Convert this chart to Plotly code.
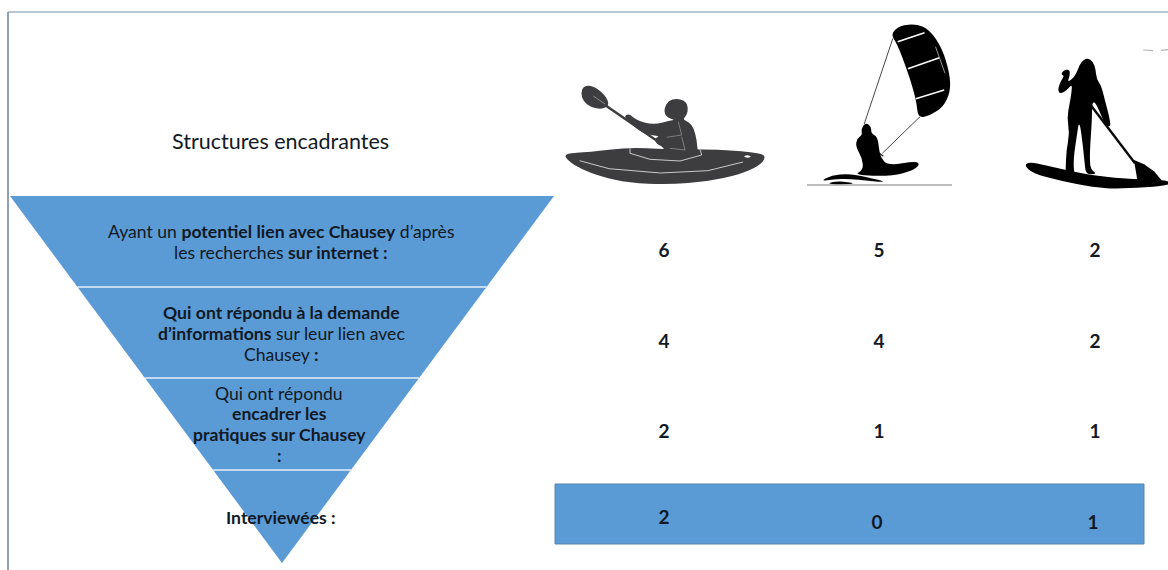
import plotly.graph_objects as go

# ---------- data ----------
stages = [
    ["Ayant un <b>potentiel lien avec Chausey</b> d’après", "les recherches <b>sur internet :</b>"],
    ["<b>Qui ont répondu à la demande</b>", "<b>d’informations</b> sur leur lien avec", "Chausey <b>:</b>"],
    ["Qui ont répondu", "<b>encadrer les</b>", "<b>pratiques sur Chausey</b>", "<b>:</b>"],
    ["<b>Interviewées :</b>"],
]
kayak = [6, 4, 2, 2]
kite = [5, 4, 1, 0]
paddle = [2, 2, 1, 1]
title = "Structures encadrantes"

# ---------- layout constants (pixels of the 1168x570 page) ----------
BLUE = "#5b9bd5"
INK = "#111925"
level_y = [196, 287, 378, 470, 563]
apex_x, top_l, top_r = 282, 10, 554
col_x = [664, 879, 1095]
row_y = [252, 343, 433]
last_x = [664, 877, 1093]
last_y = [519, 524, 524]
stage_line_y = [[231, 252], [312, 333, 354], [393, 413, 434, 455], [517]]
stage_x = [281, 281, 279, 281]


def edge(y):
    t = (y - level_y[0]) / (level_y[-1] - level_y[0])
    return top_l + (apex_x - top_l) * t, top_r + (apex_x - top_r) * t


fig = go.Figure()

# funnel bands
for i in range(4):
    y0, y1 = level_y[i], level_y[i + 1]
    l0, r0 = edge(y0)
    l1, r1 = edge(y1)
    fig.add_trace(go.Scatter(x=[l0, r0, r1, l1, l0], y=[y0, y0, y1, y1, y0], mode="lines",
                             fill="toself", fillcolor=BLUE, line=dict(width=0), hoverinfo="skip"))

shapes = []
# frame
shapes.append(dict(type="line", x0=8, x1=1168, y0=12, y1=12, line=dict(color="#a3b5c6", width=1.5)))
shapes.append(dict(type="line", x0=8, x1=8, y0=12, y1=570, line=dict(color="#6a8196", width=1.5)))
# separators
for i, y in enumerate(level_y[1:4]):
    l, r = edge(y)
    shapes.append(dict(type="line", x0=l, x1=r, y0=y, y1=y, line=dict(color="#e4eef8", width=1.6)))
# highlighted row
shapes.append(dict(type="rect", x0=555, x1=1144, y0=484, y1=544, fillcolor=BLUE, layer="below",
                   line=dict(color="#5585b0", width=1)))


def wide(p):
    return 550 + p[0] / 2.537, 10 + p[1] / 3


def crop(ox, oy):
    return lambda p: (ox + p[0] / 3, oy + p[1] / 3)


def smooth(q):
    """Closed outline with rounded corners: quadratic curves through edge midpoints."""
    n = len(q)
    mid = [((q[i][0] + q[(i + 1) % n][0]) / 2, (q[i][1] + q[(i + 1) % n][1]) / 2) for i in range(n)]
    s = "M%.1f,%.1f" % mid[-1]
    for i in range(n):
        s += " Q%.1f,%.1f %.1f,%.1f" % (q[i][0], q[i][1], mid[i][0], mid[i][1])
    return s + " Z"


def poly(q, close=True):
    s = "M" + " L".join("%.1f,%.1f" % p for p in q)
    return s + (" Z" if close else "")


def blob(points, color, tf=wide, round_=True):
    q = [tf(p) for p in points]
    shapes.append(dict(type="path", path=smooth(q) if round_ else poly(q), fillcolor=color, line=dict(width=0)))


def stroke(points, color, width, tf=wide):
    q = [tf(p) for p in points]
    shapes.append(dict(type="path", path=poly(q, False), line=dict(color=color, width=width)))


KAY = "#3d3d40"
PALE = "#c9c9c9"
kc = crop(570, 80)
# kayak hull
blob([(35, 430), (100, 426), (200, 412), (290, 418), (380, 417), (470, 422), (535, 430), (548, 442), (530, 468),
      (480, 494), (400, 514), (300, 524), (200, 518), (130, 500), (80, 478), (45, 452)], KAY)
stroke([(75, 452), (150, 476), (280, 489), (400, 482), (490, 456)], PALE, 1)
blob([(490, 440), (500, 435), (512, 439), (502, 444)], "#ffffff")
# kayaker
blob([(283, 85), (295, 62), (320, 55), (347, 63), (355, 85), (350, 105), (338, 118), (357, 126), (372, 145),
      (380, 180), (382, 205), (388, 230), (350, 240), (290, 218), (275, 197), (262, 195), (252, 175), (272, 168),
      (225, 163), (190, 138), (160, 110), (178, 100), (197, 120), (250, 135), (300, 122), (315, 120), (295, 114),
      (284, 102)], KAY, kc)
stroke([(180, 205), (180, 220), (240, 238), (330, 243), (395, 225), (390, 208)], PALE, 1, kc)
stroke([(325, 125), (335, 165), (290, 172)], "#8d8d8d", 0.8, kc)
stroke([(335, 170), (345, 210), (300, 205)], "#8d8d8d", 0.8, kc)
stroke([(105, 75), (265, 185)], KAY, 2.5, kc)
blob([(32, 40), (42, 16), (72, 18), (108, 48), (118, 76), (96, 88), (62, 82), (40, 64)], KAY, kc)
stroke([(70, 48), (105, 72)], "#8a8a8a", 1, kc)

# kite
K = "#000000"
rc = crop(805, 115)
blob([(864, 72), (888, 46), (930, 42), (962, 58), (995, 115), (1014, 190), (1016, 245), (998, 290), (965, 316),
      (934, 324), (930, 280), (922, 240), (903, 170), (880, 100)], K)
stroke([(882, 95), (950, 68)], "#ffffff", 1.6)
stroke([(908, 176), (988, 143)], "#ffffff", 1.6)
stroke([(928, 266), (1000, 240)], "#ffffff", 1.6)
stroke([(978, 110), (1002, 190)], "#bdbdbd", 0.8)
stroke([(870, 85), (797, 342)], "#333333", 0.9)
stroke([(345, 5), (232, 115)], "#333333", 0.9, rc)
stroke([(220, 112), (235, 124)], "#222222", 1.2, rc)
# rider
blob([(168, 42), (182, 22), (199, 35), (198, 55), (217, 65), (222, 100), (226, 125), (248, 152), (335, 138),
      (344, 150), (322, 167), (260, 184), (146, 180), (175, 165), (172, 130), (152, 95), (156, 70), (172, 60)],
     K, rc)
blob([(46, 199), (80, 181), (130, 176), (180, 185), (250, 202), (190, 198), (130, 191), (85, 193)], K, rc)
blob([(62, 206), (100, 198), (155, 205), (110, 209)], K, rc)
stroke([(807, 185), (952, 185)], "#a9a9a9", 1.6, lambda p: p)

# paddle boarder
wc = crop(1020, 50)
blob([(12, 345), (30, 336), (80, 346), (150, 363), (230, 378), (340, 388), (450, 391), (450, 407), (300, 417),
      (220, 412), (120, 392), (38, 370)], K, wc)
blob([(183, 35), (202, 23), (220, 35), (227, 60), (230, 88), (243, 105), (252, 140), (264, 185), (270, 212),
      (272, 230), (258, 228), (247, 205), (228, 160), (217, 155), (216, 190), (214, 240), (211, 280), (209, 330),
      (213, 360), (232, 372), (198, 374), (194, 340), (189, 290), (178, 208), (170, 260), (161, 320), (161, 362),
      (168, 378), (136, 379), (137, 360), (139, 300), (149, 250), (141, 205), (149, 160), (155, 125), (156, 102),
      (140, 122), (120, 132), (113, 118), (124, 90), (133, 78), (122, 72), (134, 58), (150, 60), (149, 78),
      (142, 98), (164, 80), (174, 58)], K, wc)
stroke([(208, 160), (345, 340)], "#0a0a0a", 2.4, wc)
blob([(342, 330), (372, 343), (402, 364), (426, 392), (352, 390)], K, wc, False)
stroke([(1505, 120), (1530, 122)], "#b5b5b5", 1.2)
stroke([(1550, 121), (1568, 119)], "#b5b5b5", 1.2)

# ---------- text ----------
ann = [dict(x=280, y=141, text=title, font=dict(size=21.5, color=INK))]
for lines, x, ys in zip(stages, stage_x, stage_line_y):
    for line, y in zip(lines, ys):
        ann.append(dict(x=x, y=y, text=line, font=dict(size=17.6, color=INK)))
for k in range(len(ann)):
    ann[k].update(showarrow=False, xanchor="center", yanchor="middle", align="center")

series = [kayak, kite, paddle]
for c, values in enumerate(series):
    xs = [col_x[c]] * 3 + [last_x[c]]
    ys = row_y + [last_y[c]]
    fig.add_trace(go.Scatter(x=xs, y=ys, mode="text", text=[str(v) for v in values], hoverinfo="skip",
                             textposition="middle center",
                             textfont=dict(family="Lato", size=19, color=INK, weight="bold")))

fig.update_layout(
    width=1168, height=570, margin=dict(l=0, r=0, t=0, b=0), showlegend=False,
    paper_bgcolor="white", plot_bgcolor="white",
    font=dict(family="Lato"),
    xaxis=dict(range=[0, 1168], visible=False, fixedrange=True),
    yaxis=dict(range=[570, 0], visible=False, fixedrange=True),
    shapes=shapes, annotations=ann,
)
fig.write_html("out.html", config=dict(displayModeBar=False),
               post_script="document.body.style.margin='0';document.body.style.overflow='hidden';")
